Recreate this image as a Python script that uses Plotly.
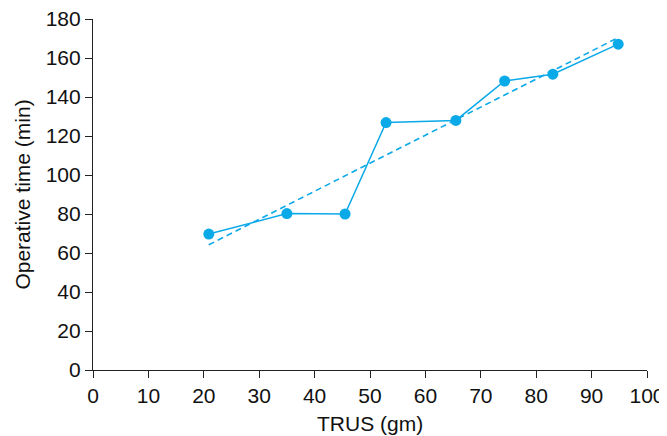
import numpy as np
import plotly.graph_objects as go

trus_gm = [20.9, 35.0, 45.5, 52.9, 65.5, 74.3, 83.0, 94.8]
operative_min = [69.7, 80.2, 80.0, 126.9, 128.0, 148.2, 151.7, 167.1]
x_ticks = list(range(0, 101, 10))
y_ticks = list(range(0, 181, 20))

slope, intercept = np.polyfit(trus_gm, operative_min, 1)
fit_x = [min(trus_gm), max(trus_gm)]
fit_y = [slope * v + intercept for v in fit_x]

color = "#0AA9E8"
font_family = "Liberation Sans, Arial"
fig = go.Figure()
fig.add_trace(go.Scatter(x=fit_x, y=fit_y, mode="lines",
                         line=dict(color=color, width=1.6, dash="6px,4px"),
                         showlegend=False, hoverinfo="skip"))
fig.add_trace(go.Scatter(x=trus_gm, y=operative_min, mode="lines+markers",
                         line=dict(color=color, width=1.5),
                         marker=dict(color=color, size=11),
                         showlegend=False))

axis_common = dict(showgrid=False, zeroline=False, showline=True, linecolor="#222",
                   linewidth=1.2, ticks="outside", ticklen=7, tickcolor="#222",
                   automargin=False, ticklabeloverflow="allow",
                   tickfont=dict(family=font_family, size=21, color="#111"))
fig.update_xaxes(range=[0, 100], tickvals=x_ticks, **axis_common)
fig.update_yaxes(range=[0, 180], tickvals=y_ticks, **axis_common)
fig.add_annotation(text="TRUS (gm)", xref="paper", yref="paper", x=0.5, y=-0.153,
                   xanchor="center", yanchor="middle", showarrow=False,
                   font=dict(family=font_family, size=21, color="#111"))
fig.add_annotation(text="Operative time (min)", xref="paper", yref="paper", x=-0.128, y=0.5,
                   xanchor="center", yanchor="middle", textangle=-90, showarrow=False,
                   font=dict(family=font_family, size=21, color="#111"))
# page body adds an 8px offset, so the figure is sized to fill the window from there
fig.update_layout(width=659, height=428, margin=dict(l=85, r=20, t=11, b=66),
                  plot_bgcolor="white", paper_bgcolor="white")
fig.write_html("out.html")
